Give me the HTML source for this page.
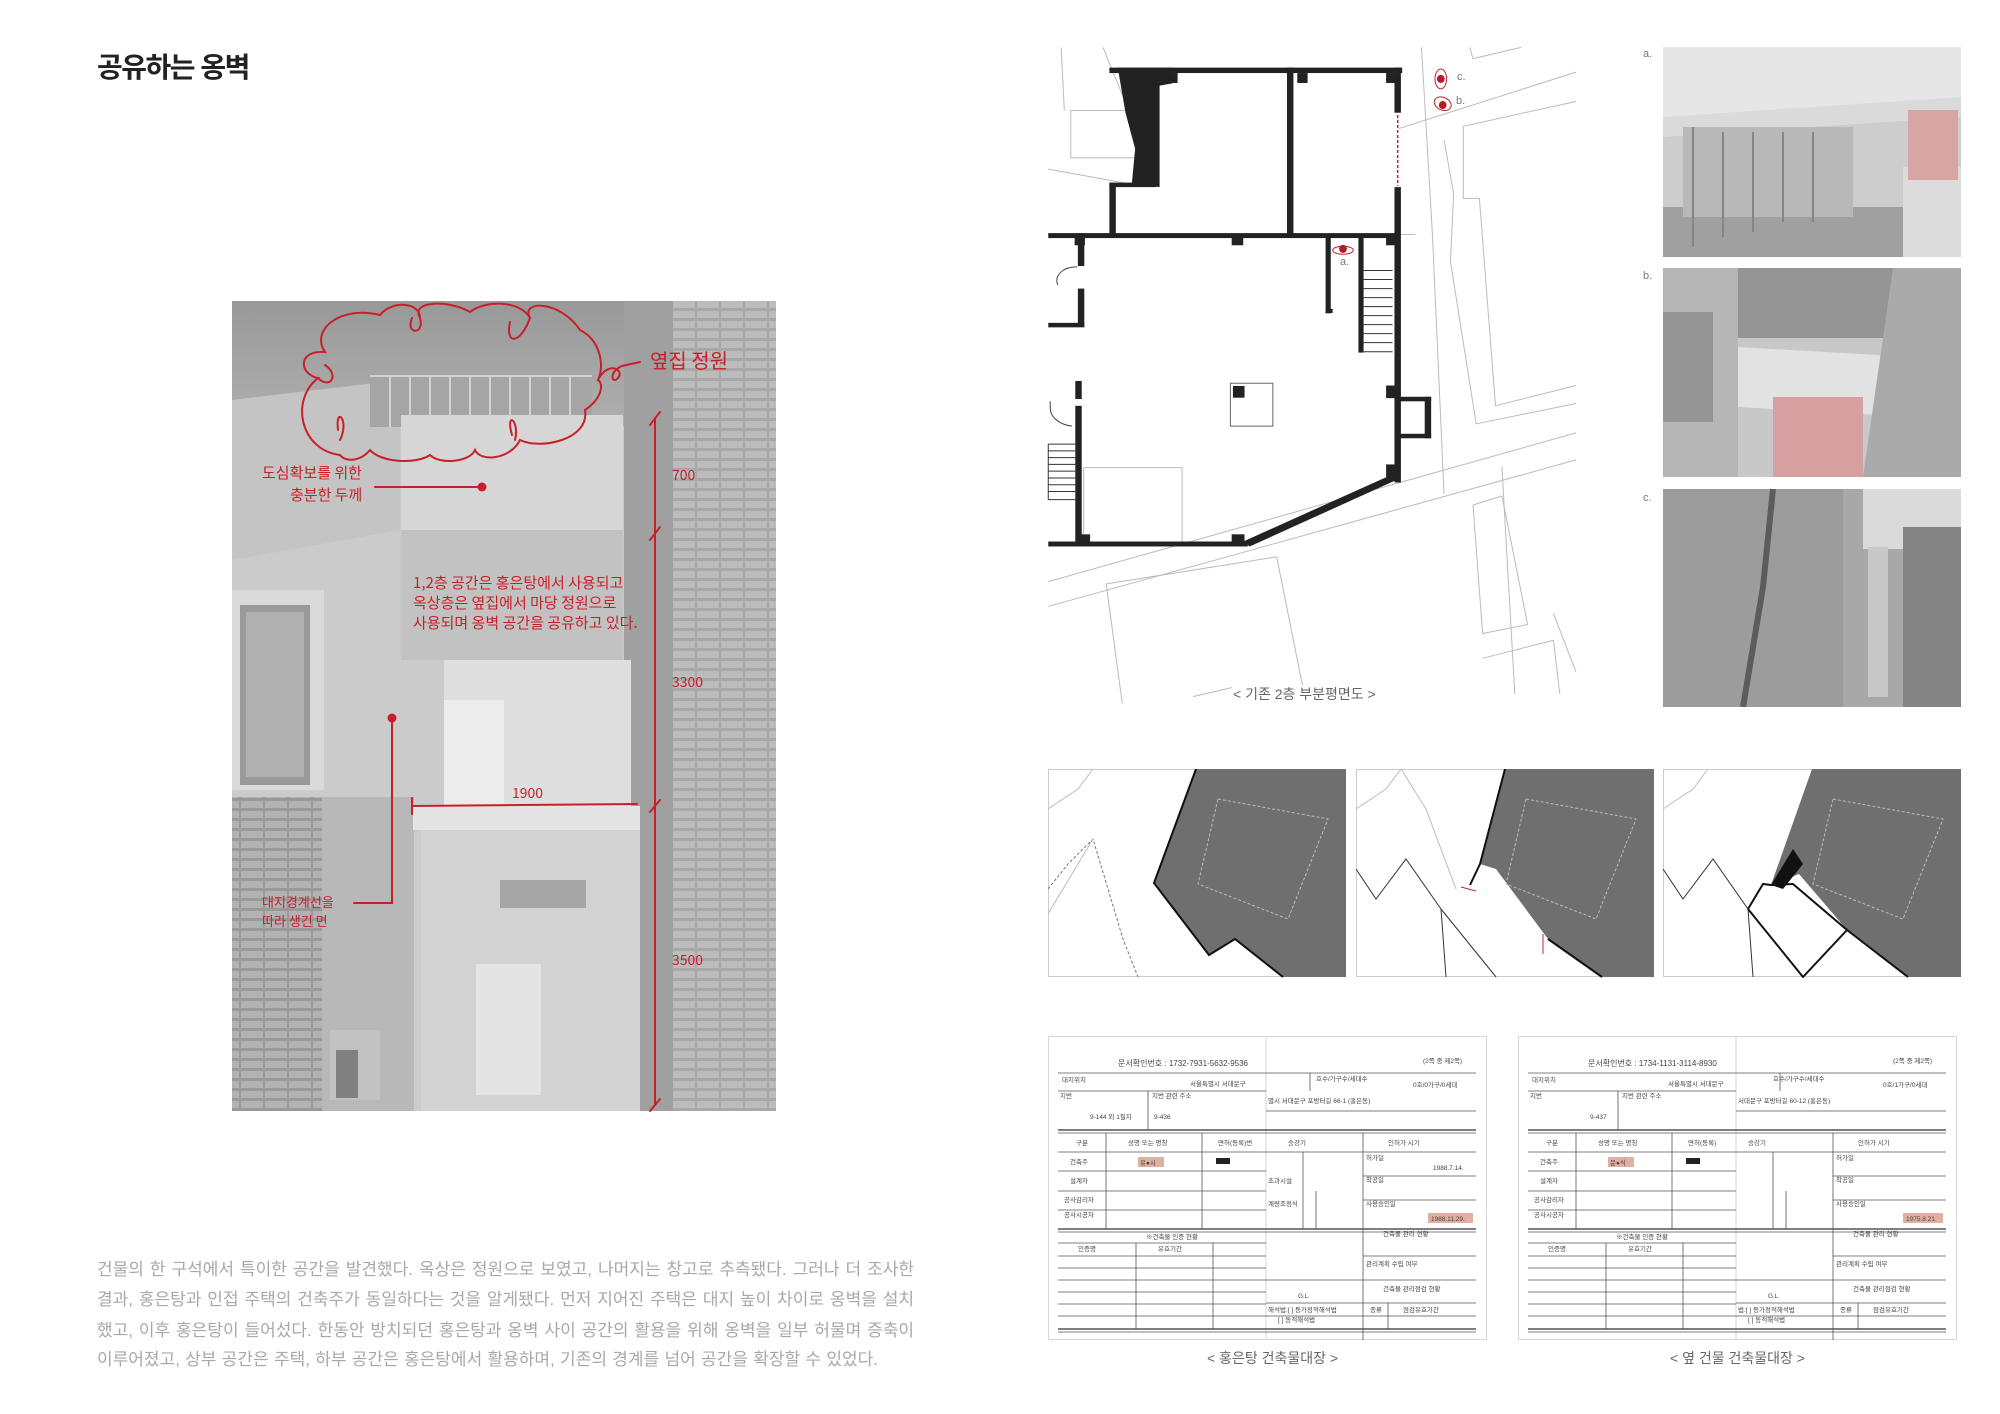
<!DOCTYPE html>
<html><head><meta charset="utf-8">
<style>
html,body{margin:0;padding:0;background:#fff;}
body{width:2000px;height:1414px;position:relative;overflow:hidden;font-family:"Liberation Sans","Noto Sans CJK KR",sans-serif;}
.abs{position:absolute;white-space:nowrap;}
.title{left:97px;top:46px;font-size:28px;font-weight:bold;color:#222;letter-spacing:-1.5px;}
.para{left:97px;width:817px;font-size:17px;color:#a8a8a8;text-align:justify;text-align-last:justify;white-space:nowrap;}
.red{color:#c8202a;font-family:"Noto Sans CJK KR",sans-serif;}
.cap{font-size:14px;color:#666;}
.lbl{font-size:11px;color:#777;}
</style></head><body>

<div class="abs title">공유하는 옹벽</div>

<!-- main photo -->
<svg class="abs" style="left:0;top:0" width="1000" height="1414" viewBox="0 0 1000 1414">
<defs>
<pattern id="brick" width="24" height="10" patternUnits="userSpaceOnUse">
<rect width="24" height="10" fill="#a8a8a8"/>
<rect x="1" y="1" width="22" height="7" fill="#bcbcbc"/>
</pattern>
<pattern id="brick2" width="24" height="10" patternUnits="userSpaceOnUse">
<rect width="24" height="10" fill="#999"/>
<rect x="1" y="1" width="22" height="7" fill="#b2b2b2"/>
</pattern>
<linearGradient id="sky" x1="0" y1="0" x2="0" y2="1"><stop offset="0" stop-color="#999"/><stop offset="1" stop-color="#afafaf"/></linearGradient>
</defs>
<rect x="232" y="301" width="544" height="810" fill="#cbcbcb"/>
<rect x="232" y="301" width="440" height="125" fill="url(#sky)"/>
<path d="M232 400 L400 380 L400 530 L232 560Z" fill="#c4c4c4"/>
<rect x="370" y="372" width="222" height="55" fill="#a5a5a5"/>
<g stroke="#e0e0e0" stroke-width="1.5">
<line x1="370" y1="376" x2="592" y2="376"/>
<line x1="390" y1="376" x2="390" y2="427"/><line x1="410" y1="376" x2="410" y2="427"/><line x1="430" y1="376" x2="430" y2="427"/><line x1="450" y1="376" x2="450" y2="427"/><line x1="470" y1="376" x2="470" y2="427"/><line x1="490" y1="376" x2="490" y2="427"/><line x1="510" y1="376" x2="510" y2="427"/><line x1="530" y1="376" x2="530" y2="427"/><line x1="550" y1="376" x2="550" y2="427"/><line x1="570" y1="376" x2="570" y2="427"/>
</g>
<rect x="401" y="415" width="222" height="115" fill="#d6d6d6"/>
<rect x="401" y="530" width="222" height="130" fill="#c2c2c2"/>
<rect x="624" y="301" width="49" height="810" fill="#a0a0a0"/>
<rect x="673" y="301" width="103" height="810" fill="url(#brick)"/>
<rect x="232" y="590" width="92" height="200" fill="#dadada"/>
<rect x="240" y="605" width="70" height="180" fill="#9a9a9a"/>
<rect x="246" y="612" width="58" height="165" fill="#b0b0b0"/>
<rect x="232" y="797" width="90" height="314" fill="url(#brick2)"/>
<rect x="322" y="797" width="92" height="314" fill="#b8b8b8"/>
<rect x="444" y="660" width="187" height="146" fill="#dedede"/>
<rect x="444" y="700" width="60" height="106" fill="#ececec"/>
<rect x="413" y="806" width="227" height="24" fill="#e4e4e4"/>
<rect x="421" y="830" width="219" height="281" fill="#d2d2d2"/>
<rect x="476" y="964" width="65" height="131" fill="#e4e4e4"/>
<rect x="500" y="880" width="86" height="28" fill="#a6a6a6"/>
<rect x="330" y="1030" width="50" height="70" fill="#c2c2c2"/>
<rect x="336" y="1050" width="22" height="48" fill="#808080"/>
<g fill="none" stroke="#c8202a" stroke-width="2" stroke-linecap="round">
<path d="M340 455 C300 450 290 400 318 378 C300 375 296 350 325 352 C310 330 340 305 380 315 C392 300 420 302 420 318 C410 300 450 300 470 312 C485 300 520 300 530 318 C520 300 560 300 580 330 C600 340 605 365 598 380 C605 385 600 400 585 410 C590 440 540 450 520 440 C510 460 480 462 475 450 C470 462 440 465 430 455 C415 465 380 462 370 450 C360 462 345 462 340 455Z"/>
<path d="M318 378 C330 390 340 375 325 365"/><path d="M420 318 C425 335 405 335 412 318"/><path d="M530 318 C520 345 505 345 510 322"/><path d="M340 440 C350 420 335 405 338 430"/><path d="M515 440 C520 420 505 410 512 435"/>
<path d="M598 380 C608 360 625 370 618 378 C612 385 608 372 622 366 L640 362"/>
<line x1="375" y1="487" x2="482" y2="487"/>
<line x1="655" y1="418" x2="655" y2="1105"/>
<line x1="650" y1="425" x2="660" y2="412"/><line x1="650" y1="540" x2="660" y2="527"/><line x1="650" y1="812" x2="660" y2="800"/><line x1="650" y1="1111" x2="660" y2="1099"/>
<line x1="412" y1="806" x2="637" y2="804"/><line x1="412" y1="798" x2="412" y2="814"/>
<polyline points="392,718 392,903 354,903"/>
</g>
<circle cx="482" cy="487" r="4.5" fill="#c8202a"/>
<circle cx="392" cy="718" r="4.5" fill="#c8202a"/>
</svg>
<div class="abs red" style="left:650px;top:345px;font-size:20px;">옆집 정원</div>
<div class="abs red" style="left:262px;top:462px;font-size:15px;">도심확보를 위한</div>
<div class="abs red" style="left:290px;top:484px;font-size:15px;">충분한 두께</div>
<div class="abs red" style="left:672px;top:465px;font-size:14px;">700</div>
<div class="abs red" style="left:413px;top:573px;font-size:15px;line-height:20px;">1,2층 공간은 홍은탕에서 사용되고<br>옥상층은 옆집에서 마당 정원으로<br>사용되며 옹벽 공간을 공유하고 있다.</div>
<div class="abs red" style="left:672px;top:672px;font-size:14px;">3300</div>
<div class="abs red" style="left:512px;top:783px;font-size:14px;">1900</div>
<div class="abs red" style="left:262px;top:892px;font-size:13px;">대지경계선을</div>
<div class="abs red" style="left:262px;top:911px;font-size:13px;">따라 생긴 면</div>
<div class="abs red" style="left:672px;top:950px;font-size:14px;">3500</div>

<div class="abs para" style="top:1255px;">건물의 한 구석에서 특이한 공간을 발견했다. 옥상은 정원으로 보였고, 나머지는 창고로 추측됐다. 그러나 더 조사한</div>
<div class="abs para" style="top:1285px;">결과, 홍은탕과 인접 주택의 건축주가 동일하다는 것을 알게됐다. 먼저 지어진 주택은 대지 높이 차이로 옹벽을 설치</div>
<div class="abs para" style="top:1316px;">했고, 이후 홍은탕이 들어섰다. 한동안 방치되던 홍은탕과 옹벽 사이 공간의 활용을 위해 옹벽을 일부 허물며 증축이</div>
<div class="abs para" style="top:1345px;width:781px;">이루어졌고, 상부 공간은 주택, 하부 공간은 홍은탕에서 활용하며, 기존의 경계를 넘어 공간을 확장할 수 있었다.</div>

<!-- plan -->
<svg class="abs" style="left:1000px;top:0" width="1000" height="707" viewBox="0 0 1554 1568" preserveAspectRatio="none">
<g fill="none" stroke="#bbb" stroke-width="1" vector-effect="non-scaling-stroke">
<line x1="95" y1="105" x2="100" y2="245" vector-effect="non-scaling-stroke"/>
<polyline points="160,105 200,245 110,245 110,350 210,350" vector-effect="non-scaling-stroke"/>
<line x1="75" y1="375" x2="210" y2="410" vector-effect="non-scaling-stroke"/>
<polyline points="655,105 672,520 690,1095" vector-effect="non-scaling-stroke"/>
<polyline points="730,105 735,130 810,105" vector-effect="non-scaling-stroke"/>
<line x1="620" y1="285" x2="895" y2="160" vector-effect="non-scaling-stroke"/>
<polyline points="895,225 720,280 720,440 745,440 770,900 895,855" vector-effect="non-scaling-stroke"/>
<polyline points="690,310 705,430 700,580 740,940 895,895" vector-effect="non-scaling-stroke"/>
<line x1="620" y1="520" x2="645" y2="520" vector-effect="non-scaling-stroke"/>
<line x1="75" y1="1290" x2="895" y2="960" vector-effect="non-scaling-stroke"/>
<line x1="75" y1="1345" x2="895" y2="1020" vector-effect="non-scaling-stroke"/>
<polyline points="780,1035 800,1540" vector-effect="non-scaling-stroke"/>
<polyline points="735,1120 780,1100 820,1385 750,1405 735,1120" vector-effect="non-scaling-stroke"/>
<polyline points="860,1360 895,1490" vector-effect="non-scaling-stroke"/>
<polyline points="750,1460 860,1420 870,1540" vector-effect="non-scaling-stroke"/>
<polyline points="165,1295 190,1560" vector-effect="non-scaling-stroke"/>
<polyline points="165,1295 430,1235 470,1520" vector-effect="non-scaling-stroke"/>
<line x1="300" y1="1545" x2="360" y2="1525" vector-effect="non-scaling-stroke"/>
<rect x="130" y="1037" width="153" height="168" vector-effect="non-scaling-stroke"/>
<rect x="358" y="850" width="66" height="95" stroke="#666" vector-effect="non-scaling-stroke"/>
</g>
<g fill="#222">
<polygon points="183,150 268,150 268,185 248,190 248,415 205,405 210,330 195,250"/>
<rect x="170" y="150" width="455" height="12"/>
<rect x="170" y="405" width="10" height="120"/>
<rect x="170" y="405" width="73" height="10"/>
<rect x="446" y="150" width="10" height="375"/>
<rect x="75" y="517" width="545" height="11"/>
<rect x="613" y="150" width="10" height="100"/>
<rect x="613" y="415" width="10" height="655"/>
<rect x="121" y="517" width="10" height="73"/>
<rect x="121" y="640" width="10" height="85"/>
<rect x="75" y="716" width="56" height="10"/>
<rect x="117" y="845" width="10" height="40"/>
<rect x="117" y="900" width="10" height="310"/>
<rect x="75" y="1201" width="310" height="11"/>
<polygon points="613,1050 623,1060 388,1212 378,1201"/>
<rect x="506" y="525" width="8" height="170"/>
<rect x="506" y="685" width="11" height="9"/>
<rect x="557" y="522" width="8" height="260"/>
<rect x="613" y="880" width="57" height="10"/>
<rect x="660" y="880" width="10" height="92"/>
<rect x="613" y="962" width="57" height="10"/>
<rect x="362" y="856" width="18" height="26"/>
<rect x="360" y="522" width="18" height="22"/>
<rect x="600" y="522" width="18" height="22"/>
<rect x="260" y="162" width="16" height="22"/>
<rect x="462" y="162" width="16" height="22"/>
<rect x="600" y="162" width="16" height="22"/>
<rect x="116" y="522" width="16" height="22"/>
<rect x="600" y="855" width="16" height="28"/>
<rect x="600" y="1030" width="16" height="28"/>
<rect x="360" y="1185" width="20" height="20"/>
<rect x="120" y="1185" width="20" height="20"/>
</g>
<line x1="618" y1="255" x2="618" y2="412" stroke="#c8202a" stroke-width="1.5" stroke-dasharray="3 2" vector-effect="non-scaling-stroke"/>
<g stroke="#333" stroke-width="1" vector-effect="non-scaling-stroke">
<line x1="562" y1="600" x2="610" y2="600" vector-effect="non-scaling-stroke"/><line x1="562" y1="620" x2="610" y2="620" vector-effect="non-scaling-stroke"/><line x1="562" y1="640" x2="610" y2="640" vector-effect="non-scaling-stroke"/><line x1="562" y1="660" x2="610" y2="660" vector-effect="non-scaling-stroke"/><line x1="562" y1="680" x2="610" y2="680" vector-effect="non-scaling-stroke"/><line x1="562" y1="700" x2="610" y2="700" vector-effect="non-scaling-stroke"/><line x1="562" y1="720" x2="610" y2="720" vector-effect="non-scaling-stroke"/><line x1="562" y1="740" x2="610" y2="740" vector-effect="non-scaling-stroke"/><line x1="562" y1="760" x2="610" y2="760" vector-effect="non-scaling-stroke"/><line x1="562" y1="780" x2="610" y2="780" vector-effect="non-scaling-stroke"/>
<line x1="75" y1="985" x2="120" y2="985" vector-effect="non-scaling-stroke"/><line x1="75" y1="1000" x2="120" y2="1000" vector-effect="non-scaling-stroke"/><line x1="75" y1="1015" x2="120" y2="1015" vector-effect="non-scaling-stroke"/><line x1="75" y1="1030" x2="120" y2="1030" vector-effect="non-scaling-stroke"/><line x1="75" y1="1045" x2="120" y2="1045" vector-effect="non-scaling-stroke"/><line x1="75" y1="1060" x2="120" y2="1060" vector-effect="non-scaling-stroke"/><line x1="75" y1="1075" x2="120" y2="1075" vector-effect="non-scaling-stroke"/><line x1="75" y1="1090" x2="120" y2="1090" vector-effect="non-scaling-stroke"/><line x1="75" y1="1108" x2="120" y2="1108" vector-effect="non-scaling-stroke"/>
<line x1="75" y1="985" x2="75" y2="1108" vector-effect="non-scaling-stroke"/>
</g>
<path d="M90 632 A30 30 0 0 1 120 592" fill="none" stroke="#444" vector-effect="non-scaling-stroke"/>
<path d="M78 890 L78 905 A40 40 0 0 0 112 945" fill="none" stroke="#444" vector-effect="non-scaling-stroke"/>
<g fill="none" stroke="#c8202a" vector-effect="non-scaling-stroke">
<ellipse cx="685" cy="175" rx="9" ry="22" vector-effect="non-scaling-stroke"/>
<ellipse cx="688" cy="230" rx="12" ry="16" transform="rotate(-30 688 230)" vector-effect="non-scaling-stroke"/>
<ellipse cx="533" cy="555" rx="16" ry="9" vector-effect="non-scaling-stroke"/>
</g>
<g fill="#b01e25"><ellipse cx="685" cy="175" rx="6" ry="9"/><ellipse cx="688" cy="233" rx="6" ry="9"/><ellipse cx="533" cy="552" rx="6" ry="9"/></g>
</svg>
<div class="abs lbl" style="left:1457px;top:71px;">c.</div>
<div class="abs lbl" style="left:1456px;top:95px;">b.</div>
<div class="abs lbl" style="left:1340px;top:256px;">a.</div>
<div class="abs cap" style="left:1233px;top:684px;">&lt; 기존 2층 부분평면도 &gt;</div>

<!-- photos a b c -->
<div class="abs lbl" style="left:1643px;top:48px;">a.</div>
<div class="abs lbl" style="left:1643px;top:270px;">b.</div>
<div class="abs lbl" style="left:1643px;top:492px;">c.</div>
<svg class="abs" style="left:1663px;top:47px" width="298" height="660" viewBox="0 0 298 660">
<rect x="0" y="0" width="298" height="210" fill="#cdcdcd"/>
<rect x="0" y="0" width="298" height="70" fill="#e6e6e6"/>
<polygon points="0,70 298,50 298,70 0,90" fill="#dadada"/>
<rect x="0" y="160" width="298" height="50" fill="#a0a0a0"/>
<rect x="20" y="80" width="170" height="90" fill="#b8b8b8"/>
<rect x="240" y="120" width="58" height="90" fill="#dcdcdc"/>
<rect x="245" y="63" width="50" height="70" fill="#d8a4a4"/>
<g stroke="#858585" stroke-width="2"><line x1="30" y1="80" x2="30" y2="200"/><line x1="60" y1="85" x2="60" y2="190"/><line x1="90" y1="85" x2="90" y2="185"/><line x1="120" y1="85" x2="120" y2="175"/><line x1="150" y1="85" x2="150" y2="175"/></g>
<rect x="0" y="221" width="298" height="209" fill="#c8c8c8"/>
<rect x="0" y="221" width="75" height="209" fill="#b6b6b6"/>
<rect x="0" y="265" width="50" height="110" fill="#949494"/>
<rect x="75" y="221" width="155" height="70" fill="#959595"/>
<polygon points="75,300 250,310 250,370 75,360" fill="#e2e2e2"/>
<rect x="110" y="350" width="90" height="80" fill="#d6a0a0"/>
<polygon points="230,221 298,221 298,430 200,430" fill="#aaaaaa"/>
<rect x="0" y="442" width="298" height="218" fill="#a8a8a8"/>
<rect x="0" y="442" width="180" height="218" fill="#9c9c9c"/>
<rect x="200" y="442" width="98" height="60" fill="#dadada"/>
<rect x="240" y="480" width="58" height="180" fill="#848484"/>
<rect x="205" y="500" width="20" height="150" fill="#c8c8c8"/>
<path d="M80 660 L100 540 L110 442" stroke="#5c5c5c" stroke-width="6" fill="none"/>
</svg>

<!-- maps -->
<svg class="abs" style="left:1048px;top:769px" width="913" height="209" viewBox="0 0 913 209">
<g>
<rect x="0.5" y="0.5" width="297" height="207" fill="#fff" stroke="#ccc"/>
<polygon points="148,0 298,0 298,208 235,208 187,170 161,186 106,114" fill="#6f6f6f"/>
<polyline points="148,0 106,114 161,186 187,170 235,208" fill="none" stroke="#111" stroke-width="2"/>
<polygon points="170,30 280,50 240,150 150,115" fill="none" stroke="#bbb" stroke-dasharray="3 2"/>
<polyline points="0,40 30,20 45,0" fill="none" stroke="#bbb"/>
<polyline points="0,120 20,95 45,70 75,170 90,208" fill="none" stroke="#777" stroke-dasharray="3 2"/>
<polyline points="0,145 45,70" fill="none" stroke="#bbb"/>
</g>
<g transform="translate(308,0)">
<rect x="0.5" y="0.5" width="297" height="207" fill="#fff" stroke="#ccc"/>
<polygon points="149,0 298,0 298,208 246,208 192,170 140,100 124,95" fill="#6f6f6f"/>
<polyline points="149,0 124,95 114,116" fill="none" stroke="#111" stroke-width="2"/>
<polyline points="192,170 246,208" fill="none" stroke="#111" stroke-width="2"/>
<polyline points="0,100 20,130 50,90 85,140 90,208" fill="none" stroke="#333"/>
<polyline points="85,140 140,208" fill="none" stroke="#333"/>
<polyline points="0,40 30,20 45,0 70,40 100,120" fill="none" stroke="#bbb"/>
<line x1="105" y1="118" x2="120" y2="122" stroke="#c8202a"/><line x1="187" y1="165" x2="187" y2="185" stroke="#c8202a"/>
<polygon points="170,30 280,50 240,150 150,115" fill="none" stroke="#bbb" stroke-dasharray="3 2"/>
</g>
<g transform="translate(615,0)">
<rect x="0.5" y="0.5" width="297" height="207" fill="#fff" stroke="#ccc"/>
<polygon points="149,0 298,0 298,208 245,208 184,161 136,105 108,116" fill="#6f6f6f"/>
<polygon points="130,80 140,95 120,120 108,116" fill="#111"/>
<polyline points="0,100 20,130 50,90 85,140 90,208" fill="none" stroke="#333"/>
<polyline points="85,140 140,208 184,161 130,115 108,116 100,115 85,140" fill="none" stroke="#111" stroke-width="2"/>
<polyline points="184,161 245,208" fill="none" stroke="#111" stroke-width="2"/>
<polyline points="0,40 30,20 45,0" fill="none" stroke="#bbb"/>
<polygon points="170,30 280,50 240,150 150,115" fill="none" stroke="#bbb" stroke-dasharray="3 2"/>
</g>
</svg>

<!-- documents -->
<svg class="abs" style="left:1048px;top:1036px" width="913" height="306" viewBox="0 0 913 306" font-family="Liberation Sans, Noto Sans CJK KR, sans-serif" font-size="6.5" fill="#444">
<defs>
<g id="doclines" stroke="#555" stroke-width="0.8" fill="none">
<rect x="0.5" y="0.5" width="438" height="303" stroke="#ccc"/>
<line x1="218" y1="0" x2="218" y2="304" stroke="#ccc"/>
<line x1="10" y1="37" x2="218" y2="37"/><line x1="218" y1="37" x2="428" y2="37"/>
<line x1="10" y1="55" x2="218" y2="55"/><line x1="218" y1="75" x2="428" y2="75"/>
<line x1="10" y1="94" x2="428" y2="94" stroke-width="1.6"/><line x1="10" y1="97" x2="428" y2="97"/>
<line x1="10" y1="116" x2="428" y2="116"/><line x1="10" y1="135" x2="218" y2="135"/><line x1="315" y1="140" x2="428" y2="140"/>
<line x1="10" y1="155" x2="218" y2="155"/><line x1="315" y1="164" x2="428" y2="164"/><line x1="10" y1="174" x2="218" y2="174"/>
<line x1="10" y1="193" x2="428" y2="193" stroke-width="1.6"/><line x1="10" y1="196" x2="428" y2="196"/>
<line x1="10" y1="207" x2="218" y2="207"/><line x1="10" y1="220" x2="218" y2="220"/><line x1="315" y1="220" x2="428" y2="220"/>
<line x1="10" y1="232" x2="218" y2="232"/><line x1="10" y1="244" x2="428" y2="244"/><line x1="10" y1="256" x2="218" y2="256"/><line x1="218" y1="267" x2="428" y2="267"/>
<line x1="10" y1="268" x2="218" y2="268"/><line x1="10" y1="280" x2="428" y2="280"/>
<line x1="10" y1="293" x2="428" y2="293" stroke-width="1.6"/><line x1="10" y1="296" x2="428" y2="296"/>
<line x1="58" y1="97" x2="58" y2="193"/><line x1="154" y1="97" x2="154" y2="193"/><line x1="100" y1="55" x2="100" y2="94"/>
<line x1="315" y1="97" x2="315" y2="304"/><line x1="88" y1="207" x2="88" y2="293"/><line x1="165" y1="207" x2="165" y2="293"/>
<line x1="255" y1="116" x2="255" y2="193"/><line x1="268" y1="155" x2="268" y2="193"/><line x1="340" y1="267" x2="340" y2="293"/>
<line x1="262" y1="37" x2="262" y2="55"/>
</g>
</defs>
<rect x="0" y="0" width="439" height="304" fill="#fff"/>
<use href="#doclines"/>
<g>
<text x="70" y="30" font-size="8">문서확인번호 : 1732-7931-5632-9536</text>
<text x="375" y="27">(2쪽 중 제2쪽)</text>
<text x="14" y="46">대지위치</text><text x="142" y="50">서울특별시 서대문구</text>
<text x="268" y="45">호수/가구수/세대수</text><text x="365" y="51">0호/0가구/0세대</text>
<text x="12" y="62">지번</text><text x="104" y="62">지번 관련 주소</text><text x="220" y="67">별시 서대문구 포방터길 66-1 (홍은동)</text>
<text x="42" y="83">9-144 외 1필지</text><text x="106" y="83">9-436</text>
<text x="28" y="109">구분</text><text x="80" y="109">성명 또는 명칭</text><text x="170" y="109">면허(등록)번</text><text x="240" y="109">승강기</text><text x="340" y="109">인허가 시기</text>
<text x="22" y="128">건축주</text><rect x="90" y="121" width="26" height="10" fill="#e0b0a0"/><text x="92" y="129">유●시</text>
<rect x="168" y="122" width="14" height="6" fill="#222"/><text x="385" y="134">1988.7.14.</text><text x="318" y="124">허가일</text>
<text x="22" y="147">설계자</text><text x="220" y="147">초과시설</text><text x="318" y="146">착공일</text>
<text x="16" y="166">공사감리자</text><text x="318" y="170">사용승인일</text><text x="220" y="170">계량조정식</text>
<text x="16" y="181">공사시공자</text><rect x="380" y="177" width="45" height="10" fill="#e0b0a0"/><text x="383" y="185">1988.11.29.</text>
<text x="98" y="203">※건축물 인증 현황</text><text x="335" y="200">건축물 관리 현황</text>
<text x="30" y="215">인증명</text><text x="110" y="215">유효기간</text><text x="318" y="230">관리계획 수립 여부</text>
<text x="335" y="255">건축물 관리점검 현황</text><text x="250" y="262">G.L</text>
<text x="220" y="276">해석법:[ ] 등가정적해석법</text><text x="322" y="276">종류</text><text x="355" y="276">점검유효기간</text>
<text x="230" y="286">[ ] 동적해석법</text>
</g>
<g transform="translate(470,0)">
<rect x="0" y="0" width="439" height="304" fill="#fff"/>
<use href="#doclines"/>
<text x="70" y="30" font-size="8">문서확인번호 : 1734-1131-3114-8930</text>
<text x="375" y="27">(2쪽 중 제2쪽)</text>
<text x="14" y="46">대지위치</text><text x="150" y="50">서울특별시 서대문구</text>
<text x="255" y="45">호수/가구수/세대수</text><text x="365" y="51">0호/1가구/0세대</text>
<text x="12" y="62">지번</text><text x="104" y="62">지번 관련 주소</text><text x="220" y="67">서대문구 포방터길 60-12 (홍은동)</text>
<text x="72" y="83">9-437</text>
<text x="28" y="109">구분</text><text x="80" y="109">성명 또는 명칭</text><text x="170" y="109">면허(등록)</text><text x="230" y="109">승강기</text><text x="340" y="109">인허가 시기</text>
<text x="22" y="128">건축주</text><rect x="90" y="121" width="26" height="10" fill="#e0b0a0"/><text x="92" y="129">문●식</text>
<rect x="168" y="122" width="14" height="6" fill="#222"/><text x="318" y="124">허가일</text>
<text x="22" y="147">설계자</text><text x="318" y="146">착공일</text>
<text x="16" y="166">공사감리자</text><text x="318" y="170">사용승인일</text>
<text x="16" y="181">공사시공자</text><rect x="385" y="177" width="40" height="10" fill="#e0b0a0"/><text x="388" y="185">1975.8.21.</text>
<text x="98" y="203">※건축물 인증 현황</text><text x="335" y="200">건축물 관리 현황</text>
<text x="30" y="215">인증명</text><text x="110" y="215">유효기간</text><text x="318" y="230">관리계획 수립 여부</text>
<text x="335" y="255">건축물 관리점검 현황</text><text x="250" y="262">G.L</text>
<text x="220" y="276">법:[ ] 등가정적해석법</text><text x="322" y="276">종류</text><text x="355" y="276">점검유효기간</text>
<text x="230" y="286">[ ] 동적해석법</text>
</g>
</svg>
<div class="abs cap" style="left:1207px;top:1348px;">&lt; 홍은탕 건축물대장 &gt;</div>
<div class="abs cap" style="left:1670px;top:1348px;">&lt; 옆 건물 건축물대장 &gt;</div>

</body></html>
